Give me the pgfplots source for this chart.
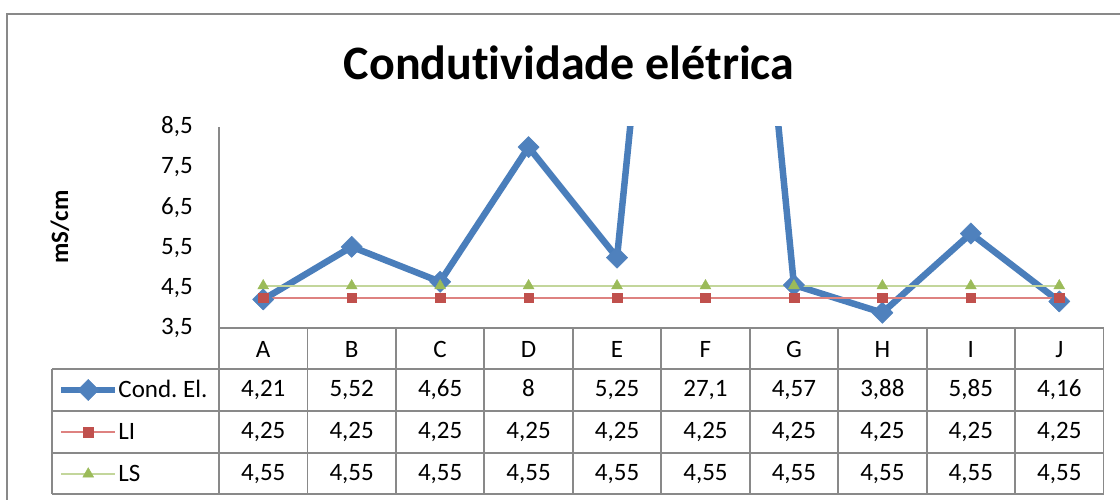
\documentclass[border=0pt]{standalone}
\usepackage{pgfplots}
\usepackage{pgfplotstable}
\pgfplotsset{compat=1.18}
\usepackage{fontspec}
\setmainfont[Ligatures={NoCommon,NoRequired,NoContextual}]{Carlito}
\frenchspacing
\definecolor{cblue}{RGB}{74,126,187}
\definecolor{cbluef}{RGB}{79,129,189}
\definecolor{cred}{RGB}{192,80,77}
\definecolor{credl}{RGB}{222,130,128}
\definecolor{cgreen}{RGB}{155,187,89}
\definecolor{cgreenl}{RGB}{195,214,155}
\definecolor{gridc}{RGB}{137,137,137}
\pgfplotstableread{
i cond li ls
0 4.21 4.25 4.55
1 5.52 4.25 4.55
2 4.65 4.25 4.55
3 8.00 4.25 4.55
4 5.25 4.25 4.55
5 27.1 4.25 4.55
6 4.57 4.25 4.55
7 3.88 4.25 4.55
8 5.85 4.25 4.55
9 4.16 4.25 4.55
}\datatable
\begin{document}
\begin{tikzpicture}[x=1pt,y=1pt]
\useasboundingbox (0,0) rectangle (1120,500);
\fill[white] (0,0) rectangle (1120,500);
\draw[gridc, line width=1.5pt] (7,0) -- (7,486) -- (1120,486);
\node[anchor=base, font=\fontsize{48}{58}\selectfont\bfseries] at (569,420) {Condutividade elétrica};
\node[rotate=90, anchor=base, font=\fontsize{25}{30}\selectfont\bfseries] at (68,273) {mS/cm};
\begin{axis}[
  at={(219pt,172pt)}, anchor=south west,
  scale only axis, width=884.5pt, height=201pt,
  xmin=-0.5, xmax=9.5, ymin=3.5, ymax=8.5,
  axis x line=none,
  axis y line*=left,
  y axis line style={draw=gridc, line width=1.5pt, -},
  ytick={3.5,4.5,5.5,6.5,7.5,8.5},
  major tick length=0pt,
  /pgf/number format/use comma,
  /pgf/number format/fixed,
  /pgf/number format/fixed zerofill,
  /pgf/number format/precision=1,
  /pgf/number format/assume math mode=true,
  yticklabel style={font=\fontsize{25}{30}\selectfont, inner sep=0pt, anchor=east, xshift=-26pt},
  legend style={at={(axis description cs:-0.18202,-0.20398)}, anchor=north west, draw=none, fill=none, inner sep=0pt, outer sep=0pt, row sep=0pt, column sep=0pt, font=\fontsize{25}{30}\selectfont, nodes={inner sep=0pt, outer sep=0pt, minimum height=42pt}},
  legend cell align=left,
  legend image code/.code={\draw[mark repeat=2,mark phase=2] plot coordinates {(0pt,0pt)(27pt,0pt)(54pt,0pt)};},
]
\addplot[cblue, line width=6.5pt, line join=round, mark=square*, mark size=7.5pt, mark options={rotate=45, fill=cbluef, draw=cbluef, line width=0.5pt}] table[x=i,y=cond] \datatable;
\addlegendentry{Cond. El.}
\addplot[credl, line width=1.8pt, mark=square*, mark size=4.8pt, mark options={fill=cred, draw=cred, line width=0.4pt}] table[x=i,y=li] \datatable;
\addlegendentry{LI}
\addplot[cgreenl, line width=2pt, mark=triangle*, mark size=6.3pt, mark options={fill=cgreen, draw=cgreen, line width=0.4pt}] table[x=i,y=ls] \datatable;
\addlegendentry{LS}
\end{axis}
\begin{scope}[gridc, line width=1.8pt]
\draw (219,172) -- (1103.5,172);
\draw (52,131) -- (1103.5,131);
\draw (52,89) -- (1103.5,89);
\draw (52,47) -- (1103.5,47);
\draw (52,6) -- (1103.5,6);
\draw (52,131) -- (52,6);
\foreach \k in {0,...,10} \draw ({219+88.45*\k},172) -- ({219+88.45*\k},6);
\end{scope}
\begin{scope}[font=\fontsize{25}{30}\selectfont]
\foreach \n [count=\k from 0] in {A,B,C,D,E,F,G,H,I,J}
  \node[anchor=base, inner sep=0pt] at ({219+88.45*(\k+0.5)},142.7) {\n};
\foreach \v [count=\k from 0] in {{4,21},{5,52},{4,65},{8},{5,25},{27,1},{4,57},{3,88},{5,85},{4,16}}
  \node[anchor=base, inner sep=0pt] at ({219+88.45*(\k+0.5)},103) {\v};
\foreach \v [count=\k from 0] in {{4,25},{4,25},{4,25},{4,25},{4,25},{4,25},{4,25},{4,25},{4,25},{4,25}}
  \node[anchor=base, inner sep=0pt] at ({219+88.45*(\k+0.5)},61) {\v};
\foreach \v [count=\k from 0] in {{4,55},{4,55},{4,55},{4,55},{4,55},{4,55},{4,55},{4,55},{4,55},{4,55}}
  \node[anchor=base, inner sep=0pt] at ({219+88.45*(\k+0.5)},19) {\v};
\end{scope}
\end{tikzpicture}
\end{document}
